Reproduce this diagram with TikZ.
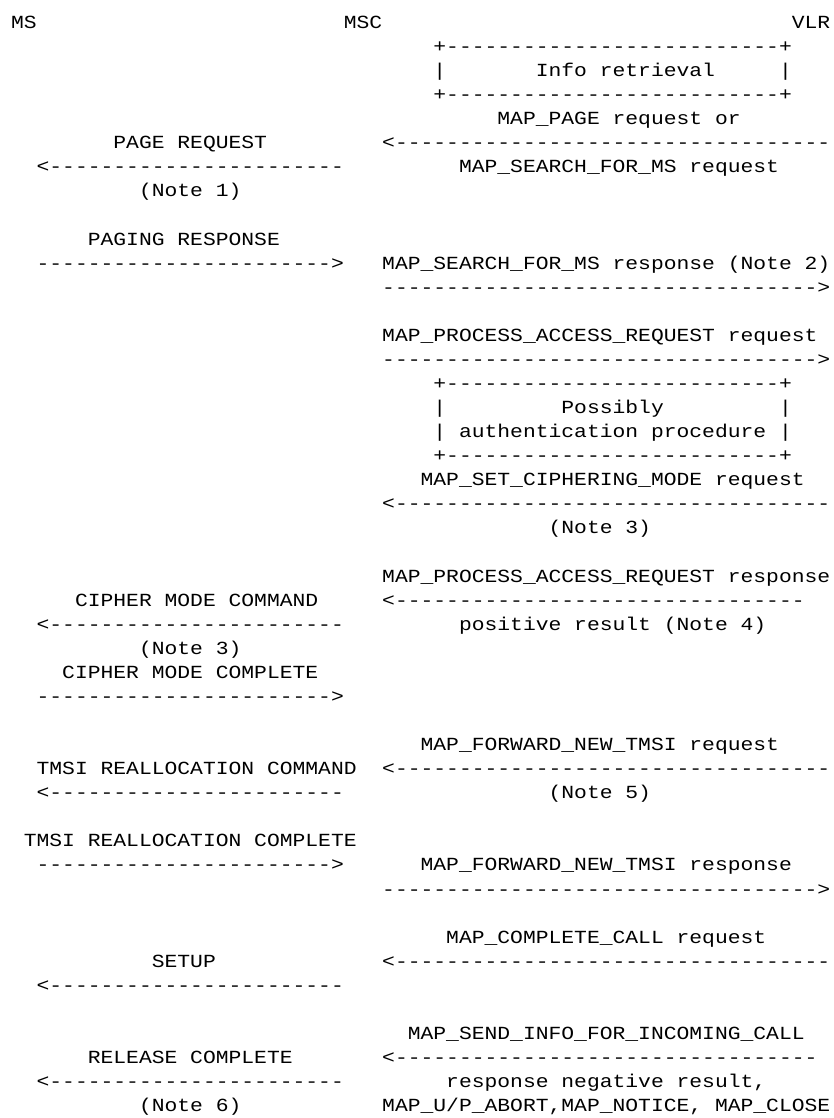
\documentclass[tikz,border=0pt]{standalone}
\usepackage{fontspec}
\setmonofont[FakeStretch=1.1532]{Liberation Mono}
\newcommand\dashrep[1]{\ifnum#1>0 -\expandafter\dashrep\expandafter{\the\numexpr#1-1\relax}\fi}
\tikzset{txt/.style={anchor=base west, inner sep=0pt, outer sep=0pt, font=\ttfamily\fontsize{18.5pt}{24pt}\selectfont}}
\begin{document}
\begin{tikzpicture}[x=12.8pt, y=-24.07pt]
\useasboundingbox[fill=white] (0pt,0pt) rectangle (833pt,-1118pt);
\begin{scope}[shift={(11pt,-28.5pt)}]
% header
\node[txt] (ms)  at (0,0)  {MS};
\node[txt] (msc) at (26,0) {MSC};
\node[txt] (vlr) at (61,0) {VLR};
% info retrieval box
\node[txt] (b1t) at (33,1) {+\dashrep{26}+};
\node[txt] (b1l) at (33,2) {|};
\node[txt] (b1x) at (41,2) {Info retrieval};
\node[txt] (b1r) at (60,2) {|};
\node[txt] (b1b) at (33,3) {+\dashrep{26}+};
% page
\node[txt] (r4)  at (38,4) {MAP\_PAGE request or};
\node[txt] (l5)  at (8,5)  {PAGE REQUEST};
\node[txt] (a5)  at (29,5) {<\dashrep{34}};
\node[txt] (al6) at (2,6)  {<\dashrep{23}};
\node[txt] (r6)  at (35,6) {MAP\_SEARCH\_FOR\_MS request};
\node[txt] (l7)  at (10,7) {(Note 1)};
% paging response
\node[txt] (l9)   at (6,9)   {PAGING RESPONSE};
\node[txt] (al10) at (2,10)  {\dashrep{23}>};
\node[txt] (r10)  at (29,10) {MAP\_SEARCH\_FOR\_MS response (Note 2)};
\node[txt] (a11)  at (29,11) {\dashrep{34}>};
\node[txt] (r13)  at (29,13) {MAP\_PROCESS\_ACCESS\_REQUEST request};
\node[txt] (a14)  at (29,14) {\dashrep{34}>};
% authentication box
\node[txt] (b2t) at (33,15) {+\dashrep{26}+};
\node[txt] (b2l1) at (33,16) {|};
\node[txt] (b2x1) at (43,16) {Possibly};
\node[txt] (b2r1) at (60,16) {|};
\node[txt] (b2l2) at (33,17) {|};
\node[txt] (b2x2) at (35,17) {authentication procedure};
\node[txt] (b2r2) at (60,17) {|};
\node[txt] (b2b) at (33,18) {+\dashrep{26}+};
% ciphering
\node[txt] (r19) at (32,19) {MAP\_SET\_CIPHERING\_MODE request};
\node[txt] (a20) at (29,20) {<\dashrep{34}};
\node[txt] (r21) at (42,21) {(Note 3)};
\node[txt] (r23) at (29,23) {MAP\_PROCESS\_ACCESS\_REQUEST response};
\node[txt] (l24) at (5,24)  {CIPHER MODE COMMAND};
\node[txt] (a24) at (29,24) {<\dashrep{32}};
\node[txt] (al25) at (2,25) {<\dashrep{23}};
\node[txt] (r25) at (35,25) {positive result (Note 4)};
\node[txt] (l26) at (10,26) {(Note 3)};
\node[txt] (l27) at (4,27)  {CIPHER MODE COMPLETE};
\node[txt] (al28) at (2,28) {\dashrep{23}>};
% TMSI
\node[txt] (r30) at (32,30) {MAP\_FORWARD\_NEW\_TMSI request};
\node[txt] (l31) at (2,31)  {TMSI REALLOCATION COMMAND};
\node[txt] (a31) at (29,31) {<\dashrep{34}};
\node[txt] (al32) at (2,32) {<\dashrep{23}};
\node[txt] (r32) at (42,32) {(Note 5)};
\node[txt] (l34) at (1,34)  {TMSI REALLOCATION COMPLETE};
\node[txt] (al35) at (2,35) {\dashrep{23}>};
\node[txt] (r35) at (32,35) {MAP\_FORWARD\_NEW\_TMSI response};
\node[txt] (a36) at (29,36) {\dashrep{34}>};
% setup
\node[txt] (r38) at (34,38) {MAP\_COMPLETE\_CALL request};
\node[txt] (l39) at (11,39) {SETUP};
\node[txt] (a39) at (29,39) {<\dashrep{34}};
\node[txt] (al40) at (2,40) {<\dashrep{23}};
% release
\node[txt] (r42) at (31,42) {MAP\_SEND\_INFO\_FOR\_INCOMING\_CALL};
\node[txt] (l43) at (6,43)  {RELEASE COMPLETE};
\node[txt] (a43) at (29,43) {<\dashrep{33}};
\node[txt] (al44) at (2,44) {<\dashrep{23}};
\node[txt] (r44) at (34,44) {response negative result,};
\node[txt] (l45) at (10,45) {(Note 6)};
\node[txt] (r45) at (29,45) {MAP\_U/P\_ABORT,MAP\_NOTICE, MAP\_CLOSE};
\end{scope}
\end{tikzpicture}
\end{document}
